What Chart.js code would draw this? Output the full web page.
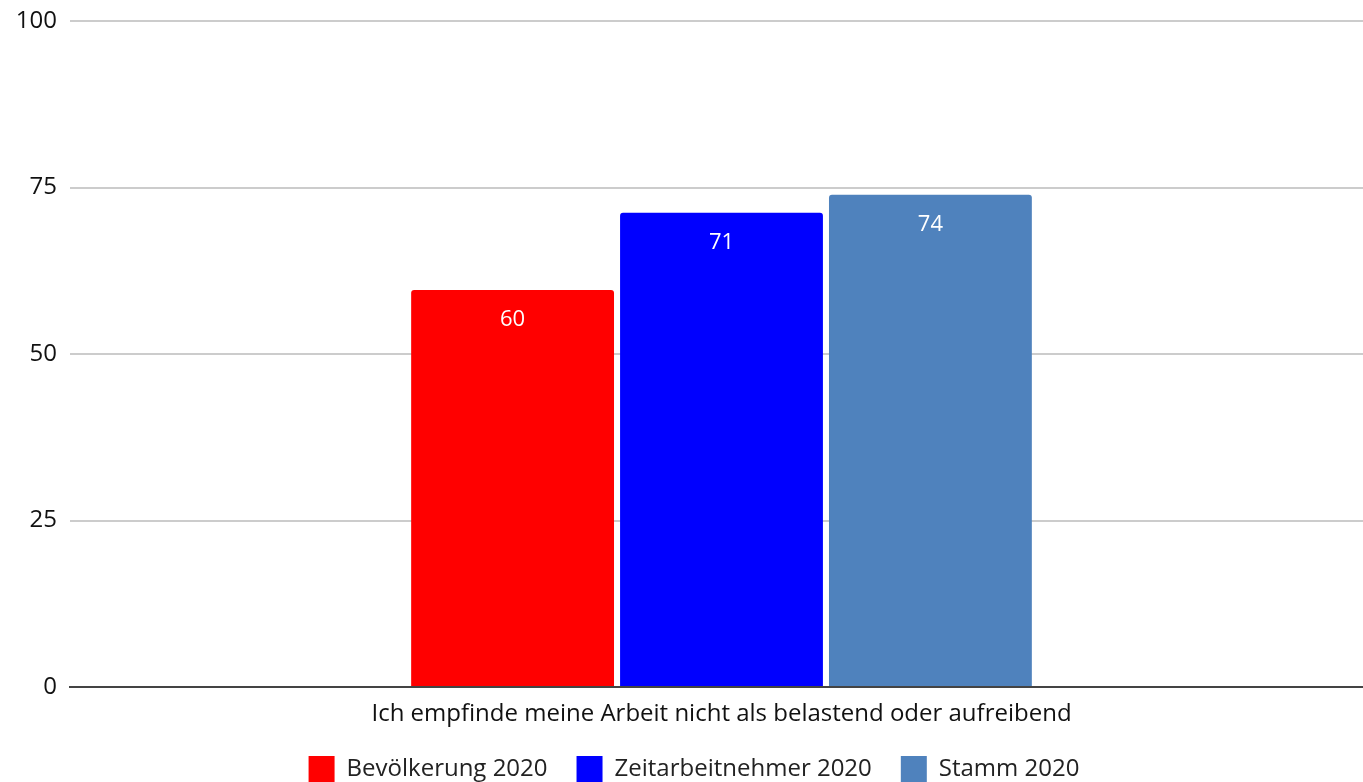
<!DOCTYPE html>
<html lang="de">
  <head>
    <meta charset="UTF-8" />
    <script src="https://cdn.jsdelivr.net/npm/chart.js"></script>
    <style>
      html, body { margin: 0; padding: 0; background: #fff; overflow: hidden; }
      #wrap { width: 1373px; height: 782px; }
    </style>
  </head>
  <body>
    <div id="wrap"><canvas id="chart"></canvas></div>
    <script>
      // Daten
      const categories = ["Ich empfinde meine Arbeit nicht als belastend oder aufreibend"];
      const seriesNames = ["Bevölkerung 2020", "Zeitarbeitnehmer 2020", "Stamm 2020"];
      const bevoelkerung = [59.6];
      const zeitarbeit = [71.2];
      const stamm = [73.9];
      const seriesColors = ["#ff0000", "#0000ff", "#4f82bd"];
      const yTicks = [0, 25, 50, 75, 100];

      const FONT = "'Open Sans', sans-serif";

      // Werte in die Balken schreiben
      const barLabels = {
        id: "barLabels",
        afterDatasetsDraw(chart) {
          const ctx = chart.ctx;
          ctx.save();
          ctx.fillStyle = "#fff";
          ctx.font = "22px " + FONT;
          ctx.textAlign = "center";
          ctx.textBaseline = "middle";
          chart.data.datasets.forEach((ds, i) => {
            chart.getDatasetMeta(i).data.forEach((bar, j) => {
              ctx.fillText(Math.round(ds.data[j]), bar.x, bar.y + 30);
            });
          });
          ctx.restore();
        },
      };

      const allData = [bevoelkerung, zeitarbeit, stamm];
      const chart = new Chart(document.getElementById("chart"), {
        type: "bar",
        data: {
          labels: categories,
          datasets: seriesNames.map((name, i) => ({
            label: name,
            data: allData[i],
            backgroundColor: seriesColors[i],
            borderWidth: 0,
            borderRadius: 3,
            borderSkipped: "bottom",
            categoryPercentage: 0.481,
            barPercentage: 0.971,
          })),
        },
        options: {
          responsive: true,
          maintainAspectRatio: false,
          animation: false,
          layout: { padding: { top: 21, right: 0, left: 15, bottom: -10 } },
          plugins: {
            legend: {
              position: "bottom",
              labels: {
                font: { family: FONT, size: 24 },
                color: "#222",
                boxWidth: 26,
                boxHeight: 26,
                padding: 29,
              },
            },
            tooltip: { enabled: false },
          },
          scales: {
            x: {
              afterFit(scale) { scale.height = 40; },
              grid: { display: false, drawTicks: false },
              border: { color: "#444", width: 2 },
              ticks: { font: { family: FONT, size: 24 }, color: "#111", padding: 13 },
            },
            y: {
              min: 0,
              max: 100,
              afterFit(scale) {
                scale.width = 55;
                scale.paddingTop = 0;
                scale.paddingBottom = 0;
              },
              afterBuildTicks(axis) {
                axis.ticks = yTicks.map((v) => ({ value: v }));
              },
              grid: { color: "#cccccc", lineWidth: 2, drawTicks: false },
              border: { display: false },
              ticks: { font: { family: FONT, size: 24 }, color: "#111", padding: 13 },
            },
          },
        },
        plugins: [barLabels],
      });
    </script>
  </body>
</html>
